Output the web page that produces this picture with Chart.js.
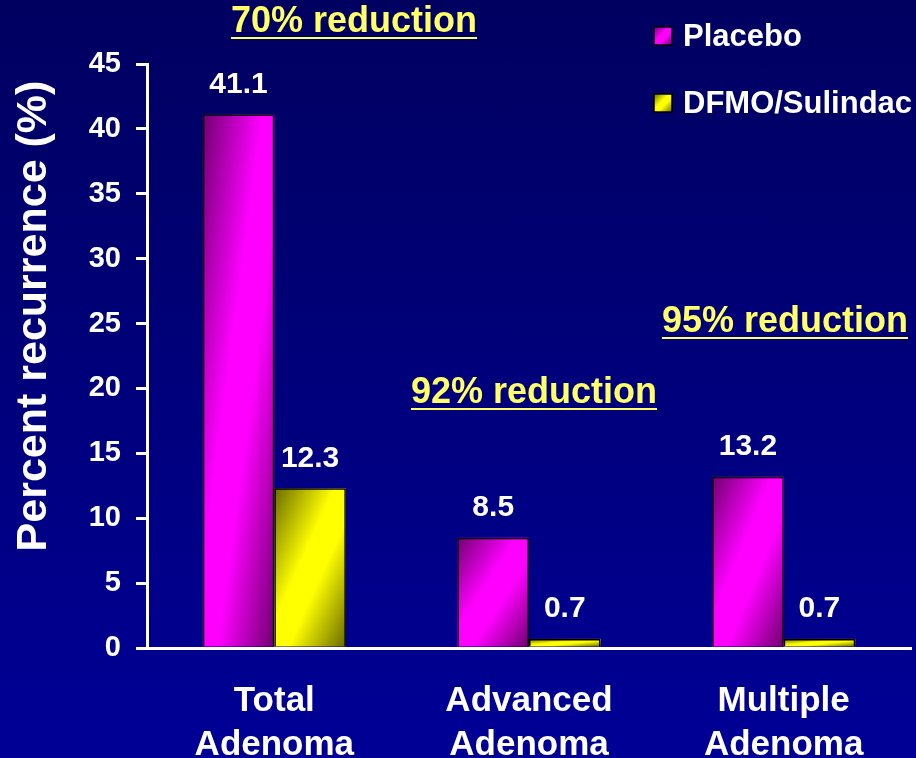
<!DOCTYPE html>
<html>
<head>
<meta charset="utf-8">
<script src="https://cdn.jsdelivr.net/npm/chart.js@4.4.0/dist/chart.umd.min.js"></script>
<style>
  html, body { margin: 0; padding: 0; }
  body { background: linear-gradient(to bottom, #000060 0%, #000096 100%); width: 916px; height: 758px; overflow: hidden; }
  #wrap { position: relative; width: 916px; height: 758px; }
</style>
</head>
<body>
<div id="wrap"><canvas id="recurrence"></canvas></div>
<script>
// categories and series
const categories = [['Total', 'Adenoma'], ['Advanced', 'Adenoma'], ['Multiple', 'Adenoma']];
const seriesNames = ['Placebo', 'DFMO/Sulindac'];
const placebo = [41.1, 8.5, 13.2];
const dfmo = [12.3, 0.7, 0.7];
const yTicks = [0, 5, 10, 15, 20, 25, 30, 35, 40, 45];
const reductions = ['70% reduction', '92% reduction', '95% reduction'];

const FONT = '"Liberation Sans", Arial, sans-serif';
const WHITE = '#ffffff';
const NOTE = '#ffff66';

// diagonal light/dark shading like the old PowerPoint fill
const shades = [
    { dark: '#700070', light: '#ff00ff' },
    { dark: '#6a6a00', light: '#ffff00' }
];

function shadeRect(ctx, left, top, w, h, s) {
    if (w <= 0 || h <= 0) return;
    ctx.save();
    ctx.translate(left, top);
    ctx.scale(w, h);
    const g = ctx.createLinearGradient(0, 0, 1, 1);
    g.addColorStop(0, s.dark);
    g.addColorStop(0.42, s.light);
    g.addColorStop(0.6, s.light);
    g.addColorStop(1, s.dark);
    ctx.fillStyle = g;
    ctx.fillRect(0, 0, 1, 1);
    ctx.restore();
}

const barShading = {
    id: 'barShading',
    beforeDatasetsDraw(chart) {
        const ctx = chart.ctx;
        chart.data.datasets.forEach((ds, i) => {
            chart.getDatasetMeta(i).data.forEach(el => {
                const p = el.getProps(['x', 'y', 'base', 'width'], true);
                const top = Math.min(p.y, p.base);
                shadeRect(ctx, p.x - p.width / 2, top, p.width, Math.abs(p.base - p.y), shades[i]);
            });
        });
    }
};

const slideText = {
    id: 'slideText',
    afterDatasetsDraw(chart) {
        const ctx = chart.ctx;
        ctx.save();
        // value labels above bars
        ctx.fillStyle = WHITE;
        ctx.font = 'bold 30px ' + FONT;
        ctx.textAlign = 'center';
        ctx.textBaseline = 'middle';
        chart.data.datasets.forEach((ds, i) => {
            chart.getDatasetMeta(i).data.forEach((el, j) => {
                ctx.fillText(ds.data[j].toFixed(1), el.x, el.y - 30);
            });
        });

        // y axis title
        ctx.save();
        ctx.translate(34, 316);
        ctx.rotate(-Math.PI / 2);
        ctx.font = 'bold 43px ' + FONT;
        ctx.fillText('Percent recurrence (%)', 0, 0);
        ctx.restore();

        // reduction notes, underlined
        const notes = [
            { x: 354, y: 22 },
            { x: 534, y: 393 },
            { x: 785, y: 322 }
        ];
        ctx.font = 'bold 36px ' + FONT;
        ctx.fillStyle = NOTE;
        ctx.strokeStyle = NOTE;
        ctx.lineWidth = 2;
        reductions.forEach((txt, k) => {
            const n = notes[k];
            ctx.fillText(txt, n.x, n.y);
            const w = ctx.measureText(txt).width;
            ctx.beginPath();
            ctx.moveTo(n.x - w / 2, n.y + 16);
            ctx.lineTo(n.x + w / 2, n.y + 16);
            ctx.stroke();
        });

        // legend
        ctx.font = 'bold 31px ' + FONT;
        ctx.textAlign = 'left';
        const legendY = [36, 103];
        seriesNames.forEach((name, k) => {
            const y = legendY[k];
            shadeRect(ctx, 654, y - 9, 18, 18, shades[k]);
            ctx.strokeStyle = '#000000';
            ctx.lineWidth = 1.5;
            ctx.strokeRect(654, y - 9, 18, 18);
            ctx.fillStyle = WHITE;
            ctx.fillText(name, 683, y + 1);
        });
        ctx.restore();
    }
};

const ctx = document.getElementById('recurrence');
new Chart(ctx, {
    type: 'bar',
    data: {
        labels: categories,
        datasets: [
            {
                label: seriesNames[0],
                data: placebo,
                backgroundColor: 'rgba(0,0,0,0)',
                borderColor: '#000000',
                borderWidth: 1.5
            },
            {
                label: seriesNames[1],
                data: dfmo,
                backgroundColor: 'rgba(0,0,0,0)',
                borderColor: '#000000',
                borderWidth: 1.5
            }
        ]
    },
    options: {
        responsive: true,
        maintainAspectRatio: false,
        animation: false,
        categoryPercentage: 0.562,
        barPercentage: 1,
        layout: {
            padding: { top: 64, right: 5, bottom: 0, left: 0 }
        },
        plugins: {
            legend: { display: false },
            title: { display: false },
            tooltip: { enabled: false }
        },
        scales: {
            x: {
                grid: { display: false, drawTicks: false },
                border: { display: true, color: WHITE, width: 3 },
                ticks: {
                    color: WHITE,
                    padding: 31,
                    font: { family: FONT, size: 35, weight: 'bold', lineHeight: 1.26 }
                },
                afterFit(scale) { scale.height = 110; }
            },
            y: {
                min: 0,
                max: 45,
                afterBuildTicks(scale) { scale.ticks = yTicks.map(v => ({ value: v })); },
                grid: {
                    drawOnChartArea: false,
                    drawTicks: true,
                    tickLength: 11,
                    color: WHITE,
                    lineWidth: 3
                },
                border: { display: true, color: WHITE, width: 3 },
                ticks: {
                    color: WHITE,
                    padding: 15,
                    font: { family: FONT, size: 29, weight: 'bold' }
                },
                afterFit(scale) { scale.width = 147; }
            }
        }
    },
    plugins: [barShading, slideText]
});
</script>
</body>
</html>
